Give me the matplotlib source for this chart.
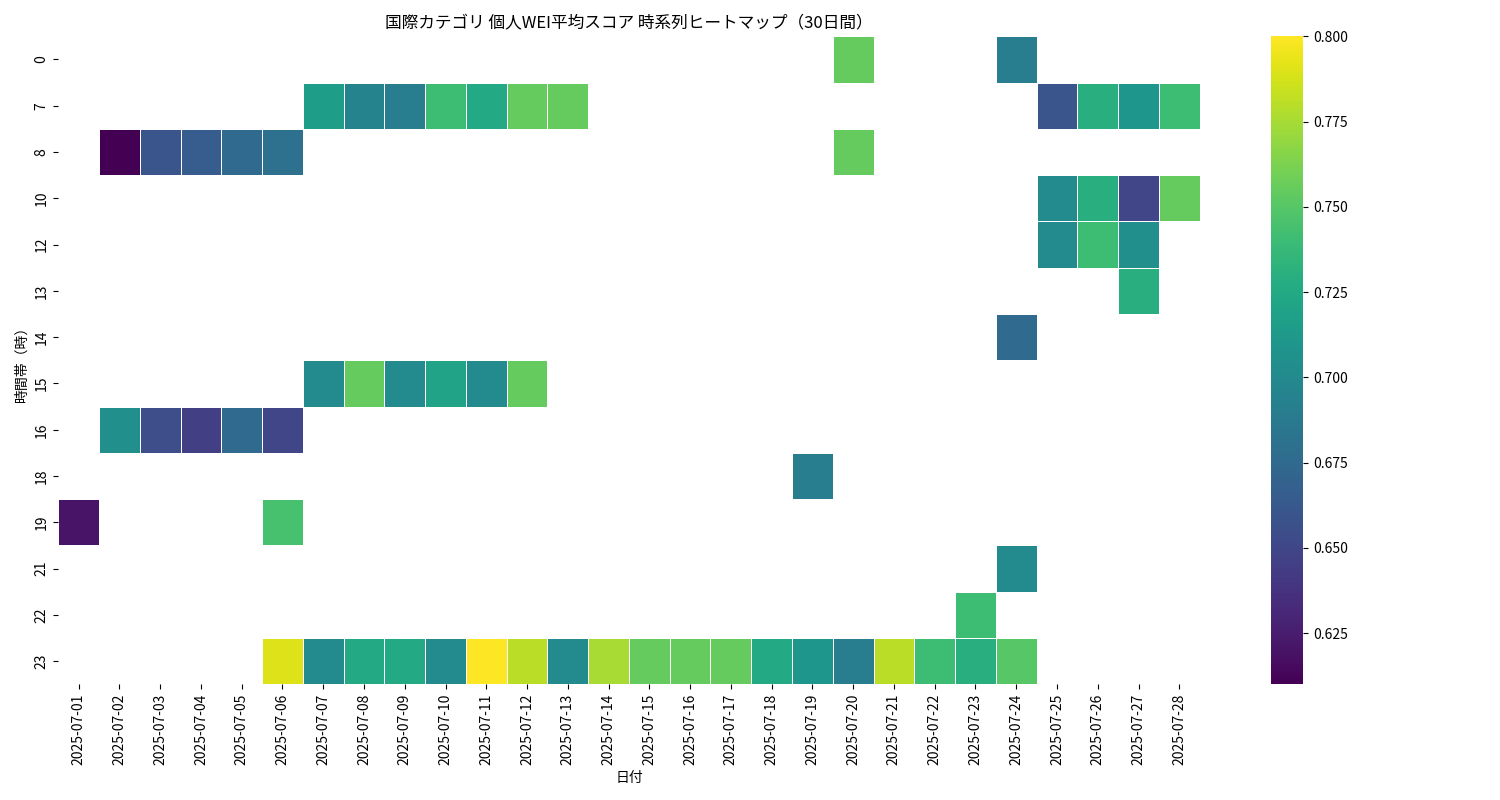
import numpy as np
import pandas as pd
import matplotlib
matplotlib.use("Agg")
import matplotlib.pyplot as plt
import seaborn as sns

plt.rcParams["font.family"] = "Noto Sans CJK JP"

dates = ["2025-07-%02d" % d for d in range(1, 29)]
hours = [0, 7, 8, 10, 12, 13, 14, 15, 16, 18, 19, 21, 22, 23]

# (hour, date, score)
cells = {
    0: {"2025-07-20": 0.755, "2025-07-24": 0.69},
    7: {"2025-07-07": 0.715, "2025-07-08": 0.695, "2025-07-09": 0.69, "2025-07-10": 0.74,
        "2025-07-11": 0.725, "2025-07-12": 0.755, "2025-07-13": 0.755,
        "2025-07-25": 0.66, "2025-07-26": 0.73, "2025-07-27": 0.71, "2025-07-28": 0.74},
    8: {"2025-07-02": 0.61, "2025-07-03": 0.66, "2025-07-04": 0.665, "2025-07-05": 0.675,
        "2025-07-06": 0.68, "2025-07-20": 0.755},
    10: {"2025-07-25": 0.70, "2025-07-26": 0.73, "2025-07-27": 0.65, "2025-07-28": 0.755},
    12: {"2025-07-25": 0.70, "2025-07-26": 0.74, "2025-07-27": 0.705},
    13: {"2025-07-27": 0.73},
    14: {"2025-07-24": 0.675},
    15: {"2025-07-07": 0.70, "2025-07-08": 0.755, "2025-07-09": 0.70, "2025-07-10": 0.72,
         "2025-07-11": 0.70, "2025-07-12": 0.755},
    16: {"2025-07-02": 0.705, "2025-07-03": 0.655, "2025-07-04": 0.645, "2025-07-05": 0.675,
         "2025-07-06": 0.65},
    18: {"2025-07-19": 0.69},
    19: {"2025-07-01": 0.62, "2025-07-06": 0.745},
    21: {"2025-07-24": 0.70},
    22: {"2025-07-23": 0.74},
    23: {"2025-07-06": 0.79, "2025-07-07": 0.70, "2025-07-08": 0.725, "2025-07-09": 0.725,
         "2025-07-10": 0.70, "2025-07-11": 0.80, "2025-07-12": 0.78, "2025-07-13": 0.70,
         "2025-07-14": 0.775, "2025-07-15": 0.755, "2025-07-16": 0.755, "2025-07-17": 0.755,
         "2025-07-18": 0.725, "2025-07-19": 0.71, "2025-07-20": 0.69, "2025-07-21": 0.78,
         "2025-07-22": 0.74, "2025-07-23": 0.73, "2025-07-24": 0.75},
}

df = pd.DataFrame(np.nan, index=hours, columns=dates)
for h, row in cells.items():
    for d, v in row.items():
        df.loc[h, d] = v

fig, ax = plt.subplots(figsize=(15, 8), dpi=100)
sns.heatmap(df, cmap="viridis", vmin=0.61, vmax=0.80, linewidths=0.5, linecolor="white", ax=ax)
ax.set_title("国際カテゴリ 個人WEI平均スコア 時系列ヒートマップ（30日間）")
ax.set_xlabel("日付")
ax.set_ylabel("時間帯（時）")
plt.tight_layout()
plt.savefig("out.png")
